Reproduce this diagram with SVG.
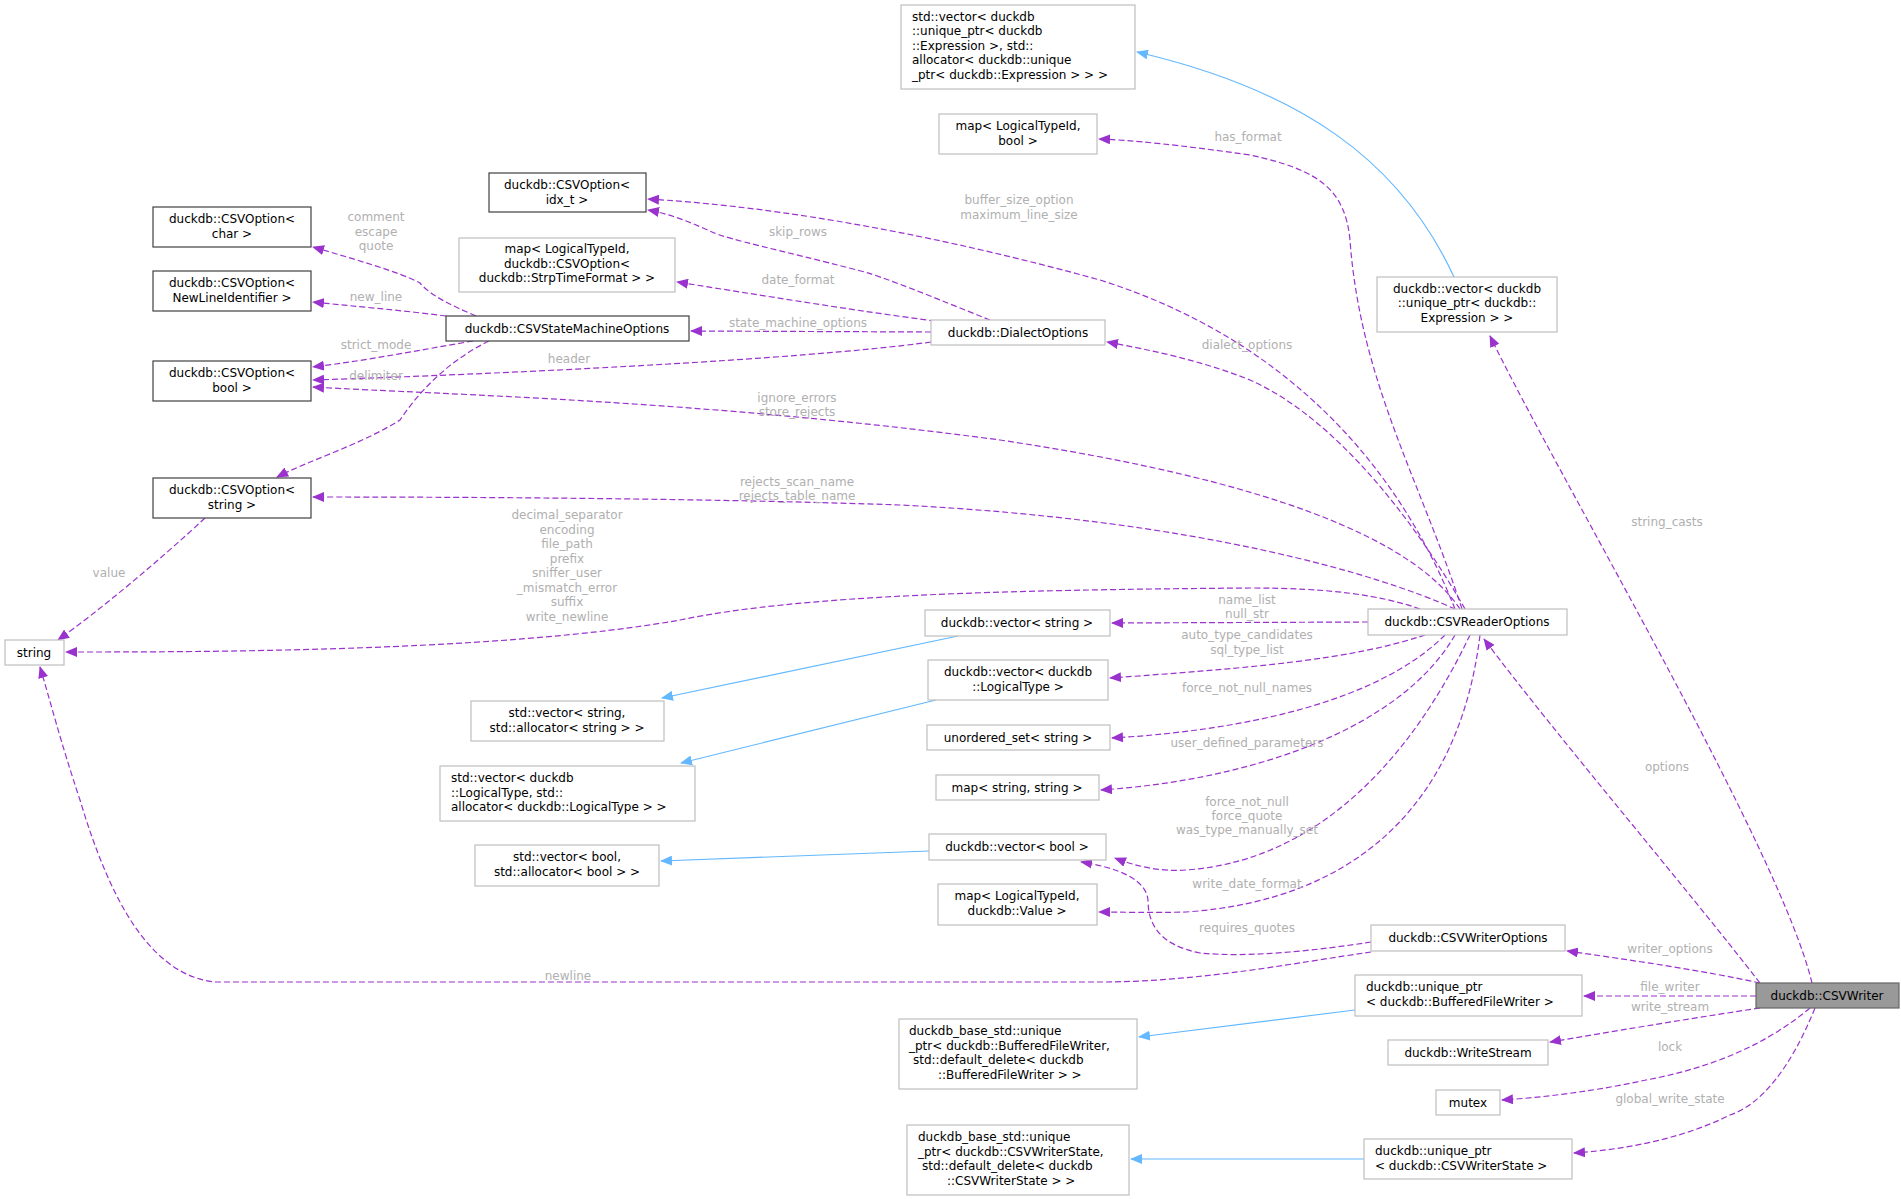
<svg xmlns="http://www.w3.org/2000/svg" width="1901" height="1199" viewBox="0 0 1901 1199">
<style>
text{font-family:"DejaVu Sans","Liberation Sans",sans-serif;font-size:12px;fill:#000}
.n rect{fill:#fff;stroke:#bfbfbf;stroke-width:1.2}
.d rect{fill:#fff;stroke:#404040;stroke-width:1.2}
.e path{fill:none;stroke:#9a32cd;stroke-width:1.2;stroke-dasharray:6,3}
.b path{fill:none;stroke:#63b8ff;stroke-width:1.2}
.l text{fill:#b0b0b0;text-anchor:middle}
.c{text-anchor:middle}
</style>
<defs>
<marker id="ap" markerWidth="12" markerHeight="10" refX="11" refY="5" orient="auto" markerUnits="userSpaceOnUse"><path d="M0,0 L12,5 L0,10 z" fill="#9a32cd"/></marker>
<marker id="ab" markerWidth="12" markerHeight="10" refX="11" refY="5" orient="auto" markerUnits="userSpaceOnUse"><path d="M0,0 L12,5 L0,10 z" fill="#63b8ff"/></marker>
</defs>
<rect width="1901" height="1199" fill="#fff"/>
<g id="edges">
<g class="b">
<path d="M1454,277 C1400,160 1300,90 1137,52" marker-end="url(#ab)"/>
<path d="M958,636 L662,698" marker-end="url(#ab)"/>
<path d="M936,700 L681,763" marker-end="url(#ab)"/>
<path d="M929,851 L661,861" marker-end="url(#ab)"/>
<path d="M1355,1010 L1139,1037" marker-end="url(#ab)"/>
<path d="M1364,1159 L1131,1159" marker-end="url(#ab)"/>
</g>
<g class="e">
<path d="M1812,983 C1780,850 1560,480 1490,336" marker-end="url(#ap)"/>
<path d="M1760,983 C1680,880 1560,740 1484,639" marker-end="url(#ap)"/>
<path d="M1760,983 C1700,970 1630,960 1567,951" marker-end="url(#ap)"/>
<path d="M1756,996 L1584,996" marker-end="url(#ap)"/>
<path d="M1760,1008 C1680,1020 1610,1032 1550,1042" marker-end="url(#ap)"/>
<path d="M1810,1008 C1760,1050 1700,1070 1646,1080 C1600,1090 1550,1097 1502,1100" marker-end="url(#ap)"/>
<path d="M1815,1008 C1790,1070 1760,1105 1730,1115 C1680,1140 1620,1150 1574,1153" marker-end="url(#ap)"/>
<path d="M1462,609 C1420,480 1360,380 1350,240 C1345,190 1320,170 1250,155 C1180,145 1130,140 1099,139" marker-end="url(#ap)"/>
<path d="M1455,609 C1400,470 1290,340 1100,280 C900,225 750,205 648,199" marker-end="url(#ap)"/>
<path d="M990,320 C940,300 880,275 857,270 C780,250 730,240 712,232 C690,222 670,214 648,210" marker-end="url(#ap)"/>
<path d="M935,321 C850,310 760,295 677,282" marker-end="url(#ap)"/>
<path d="M931,332 L691,331" marker-end="url(#ap)"/>
<path d="M931,342 C800,360 500,374 313,380" marker-end="url(#ap)"/>
<path d="M1465,609 C1420,530 1340,420 1250,380 C1200,360 1150,350 1107,342" marker-end="url(#ap)"/>
<path d="M1460,609 C1400,520 1200,470 1000,440 C700,400 450,395 313,387" marker-end="url(#ap)"/>
<path d="M1455,609 C1380,575 1200,520 900,505 C700,498 450,497 313,497" marker-end="url(#ap)"/>
<path d="M1420,609 C1380,595 1330,588 1250,588 C1000,590 800,595 680,620 C500,652 200,652 66,652" marker-end="url(#ap)"/>
<path d="M1368,622 L1112,623" marker-end="url(#ap)"/>
<path d="M1425,635 C1350,660 1250,668 1110,678" marker-end="url(#ap)"/>
<path d="M1445,635 C1380,700 1250,730 1112,738" marker-end="url(#ap)"/>
<path d="M1455,635 C1400,730 1250,780 1101,790" marker-end="url(#ap)"/>
<path d="M1470,635 C1420,740 1330,860 1186,870 C1160,872 1135,866 1115,858" marker-end="url(#ap)"/>
<path d="M1480,635 C1460,800 1360,900 1186,912 C1150,913 1120,912 1099,912" marker-end="url(#ap)"/>
<path d="M1371,942 C1320,950 1250,958 1200,953 C1160,945 1148,925 1148,900 C1146,880 1120,868 1081,862" marker-end="url(#ap)"/>
<path d="M1371,952 C1300,962 1200,982 1100,982 L215,982 C150,975 110,900 80,800 C60,740 50,700 40,667" marker-end="url(#ap)"/>
<path d="M476,316 C450,305 430,295 420,283 C400,272 350,258 313,247" marker-end="url(#ap)"/>
<path d="M446,316 C400,310 350,306 313,302" marker-end="url(#ap)"/>
<path d="M473,341 C420,350 370,360 313,367" marker-end="url(#ap)"/>
<path d="M489,341 C450,360 420,390 400,420 C360,445 310,460 277,477" marker-end="url(#ap)"/>
<path d="M205,518 C160,560 100,610 58,640" marker-end="url(#ap)"/>
</g>
</g>
<g class="l">
<text x="376" y="221">comment</text><text x="376" y="236">escape</text><text x="376" y="250">quote</text>
<text x="376" y="301">new_line</text>
<text x="376" y="349">strict_mode</text>
<text x="376" y="380">delimiter</text>
<text x="569" y="363">header</text>
<text x="109" y="577">value</text>
<text x="567" y="519">decimal_separator</text><text x="567" y="534">encoding</text><text x="567" y="548">file_path</text><text x="567" y="563">prefix</text><text x="567" y="577">sniffer_user</text><text x="567" y="592">_mismatch_error</text><text x="567" y="606">suffix</text><text x="567" y="621">write_newline</text>
<text x="1248" y="141">has_format</text>
<text x="1019" y="204">buffer_size_option</text><text x="1019" y="219">maximum_line_size</text>
<text x="798" y="236">skip_rows</text>
<text x="798" y="284">date_format</text>
<text x="798" y="327">state_machine_options</text>
<text x="1247" y="349">dialect_options</text>
<text x="797" y="402">ignore_errors</text><text x="797" y="416">store_rejects</text>
<text x="797" y="486">rejects_scan_name</text><text x="797" y="500">rejects_table_name</text>
<text x="1247" y="604">name_list</text><text x="1247" y="618">null_str</text>
<text x="1247" y="639">auto_type_candidates</text><text x="1247" y="654">sql_type_list</text>
<text x="1247" y="692">force_not_null_names</text>
<text x="1247" y="747">user_defined_parameters</text>
<text x="1247" y="806">force_not_null</text><text x="1247" y="820">force_quote</text><text x="1247" y="834">was_type_manually_set</text>
<text x="1247" y="888">write_date_format</text>
<text x="1247" y="932">requires_quotes</text>
<text x="568" y="980">newline</text>
<text x="1667" y="526">string_casts</text>
<text x="1667" y="771">options</text>
<text x="1670" y="953">writer_options</text>
<text x="1670" y="991">file_writer</text>
<text x="1670" y="1011">write_stream</text>
<text x="1670" y="1051">lock</text>
<text x="1670" y="1103">global_write_state</text>
</g>
<g id="CSVWriter"><rect x="1756" y="983" width="143" height="25" fill="#999" stroke="#666" stroke-width="1.2"/><text class="c" x="1827" y="1000">duckdb::CSVWriter</text></g>
<g id="vecExprStd" class="n"><rect x="901" y="5" width="234" height="84"/><text x="912" y="21">std::vector&lt; duckdb</text><text x="912" y="35">::unique_ptr&lt; duckdb</text><text x="912" y="50">::Expression &gt;, std::</text><text x="912" y="64">allocator&lt; duckdb::unique</text><text x="912" y="79">_ptr&lt; duckdb::Expression &gt; &gt; &gt;</text></g>
<g id="mapLTIbool" class="n"><rect x="939" y="114" width="158" height="40"/><text class="c" x="1018" y="130">map&lt; LogicalTypeId,</text><text class="c" x="1018" y="145">bool &gt;</text></g>
<g id="optIdx" class="d"><rect x="489" y="173" width="157" height="39"/><text class="c" x="567" y="189">duckdb::CSVOption&lt;</text><text class="c" x="567" y="204">idx_t &gt;</text></g>
<g id="mapStrp" class="n"><rect x="459" y="238" width="216" height="54"/><text class="c" x="567" y="253">map&lt; LogicalTypeId,</text><text class="c" x="567" y="268">duckdb::CSVOption&lt;</text><text class="c" x="567" y="282">duckdb::StrpTimeFormat &gt; &gt;</text></g>
<g id="optChar" class="d"><rect x="153" y="207" width="158" height="40"/><text class="c" x="232" y="223">duckdb::CSVOption&lt;</text><text class="c" x="232" y="238">char &gt;</text></g>
<g id="optNL" class="d"><rect x="153" y="271" width="158" height="40"/><text class="c" x="232" y="287">duckdb::CSVOption&lt;</text><text class="c" x="232" y="302">NewLineIdentifier &gt;</text></g>
<g id="optBool" class="d"><rect x="153" y="361" width="158" height="40"/><text class="c" x="232" y="377">duckdb::CSVOption&lt;</text><text class="c" x="232" y="392">bool &gt;</text></g>
<g id="optString" class="d"><rect x="153" y="478" width="158" height="40"/><text class="c" x="232" y="494">duckdb::CSVOption&lt;</text><text class="c" x="232" y="509">string &gt;</text></g>
<g id="stateMachine" class="d"><rect x="446" y="316" width="243" height="25"/><text class="c" x="567" y="333">duckdb::CSVStateMachineOptions</text></g>
<g id="dialect" class="n"><rect x="931" y="320" width="174" height="25"/><text class="c" x="1018" y="337">duckdb::DialectOptions</text></g>
<g id="vecExpr" class="n"><rect x="1377" y="277" width="180" height="55"/><text class="c" x="1467" y="293">duckdb::vector&lt; duckdb</text><text class="c" x="1467" y="307">::unique_ptr&lt; duckdb::</text><text class="c" x="1467" y="322">Expression &gt; &gt;</text></g>
<g id="string" class="n"><rect x="5" y="640" width="59" height="25"/><text class="c" x="34" y="657">string</text></g>
<g id="readerOpts" class="n"><rect x="1368" y="609" width="199" height="26"/><text class="c" x="1467" y="626">duckdb::CSVReaderOptions</text></g>
<g id="vecString" class="n"><rect x="925" y="610" width="185" height="26"/><text class="c" x="1017" y="627">duckdb::vector&lt; string &gt;</text></g>
<g id="vecLT" class="n"><rect x="928" y="660" width="180" height="40"/><text class="c" x="1018" y="676">duckdb::vector&lt; duckdb</text><text class="c" x="1018" y="691">::LogicalType &gt;</text></g>
<g id="uset" class="n"><rect x="927" y="725" width="183" height="25"/><text class="c" x="1018" y="742">unordered_set&lt; string &gt;</text></g>
<g id="mapSS" class="n"><rect x="936" y="775" width="163" height="25"/><text class="c" x="1017" y="792">map&lt; string, string &gt;</text></g>
<g id="stdVecString" class="n"><rect x="471" y="701" width="193" height="40"/><text class="c" x="567" y="717">std::vector&lt; string,</text><text class="c" x="567" y="732">std::allocator&lt; string &gt; &gt;</text></g>
<g id="stdVecLT" class="n"><rect x="440" y="766" width="255" height="55"/><text x="451" y="782">std::vector&lt; duckdb</text><text x="451" y="797">::LogicalType, std::</text><text x="451" y="811">allocator&lt; duckdb::LogicalType &gt; &gt;</text></g>
<g id="stdVecBool" class="n"><rect x="475" y="845" width="184" height="41"/><text class="c" x="567" y="861">std::vector&lt; bool,</text><text class="c" x="567" y="876">std::allocator&lt; bool &gt; &gt;</text></g>
<g id="vecBool" class="n"><rect x="929" y="834" width="177" height="26"/><text class="c" x="1017" y="851">duckdb::vector&lt; bool &gt;</text></g>
<g id="mapLTIVal" class="n"><rect x="938" y="884" width="159" height="41"/><text class="c" x="1017" y="900">map&lt; LogicalTypeId,</text><text class="c" x="1017" y="915">duckdb::Value &gt;</text></g>
<g id="writerOpts" class="n"><rect x="1371" y="925" width="194" height="26"/><text class="c" x="1468" y="942">duckdb::CSVWriterOptions</text></g>
<g id="upBFW" class="n"><rect x="1355" y="975" width="227" height="41"/><text x="1366" y="991">duckdb::unique_ptr</text><text x="1366" y="1006">&lt; duckdb::BufferedFileWriter &gt;</text></g>
<g id="writeStream" class="n"><rect x="1388" y="1040" width="160" height="25"/><text class="c" x="1468" y="1057">duckdb::WriteStream</text></g>
<g id="mutex" class="n"><rect x="1436" y="1090" width="64" height="25"/><text class="c" x="1468" y="1107">mutex</text></g>
<g id="upState" class="n"><rect x="1364" y="1139" width="208" height="40"/><text x="1375" y="1155">duckdb::unique_ptr</text><text x="1375" y="1170">&lt; duckdb::CSVWriterState &gt;</text></g>
<g id="baseBFW" class="n"><rect x="899" y="1019" width="238" height="70"/><text x="909" y="1035">duckdb_base_std::unique</text><text x="909" y="1050">_ptr&lt; duckdb::BufferedFileWriter,</text><text x="913" y="1064">std::default_delete&lt; duckdb</text><text x="938" y="1079">::BufferedFileWriter &gt; &gt;</text></g>
<g id="baseState" class="n"><rect x="907" y="1125" width="222" height="70"/><text x="918" y="1141">duckdb_base_std::unique</text><text x="918" y="1156">_ptr&lt; duckdb::CSVWriterState,</text><text x="922" y="1170">std::default_delete&lt; duckdb</text><text x="947" y="1185">::CSVWriterState &gt; &gt;</text></g>
</svg>
